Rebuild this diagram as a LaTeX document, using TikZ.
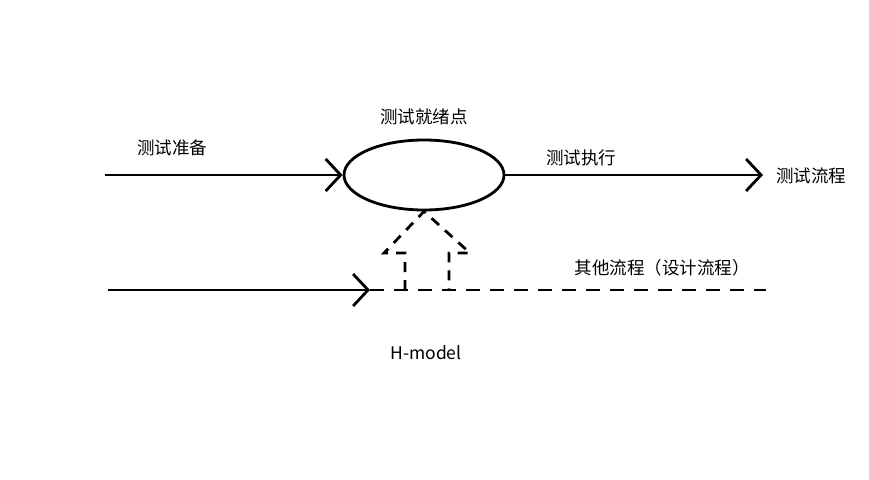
\documentclass[tikz,border=0pt]{standalone}
\usepackage{fontspec}
\setmainfont{Noto Sans CJK SC}
\usetikzlibrary{arrows.meta,shapes.geometric}
\tikzset{
  flow/.style={line width=2.8pt, -{Straight Barb[length=15pt,width=32pt,line width=2.8pt]}},
  guide/.style={line width=2.8pt, dash pattern=on 14pt off 10pt},
  lift/.style={line width=2.8pt, dash pattern=on 10pt off 8pt},
  lbl/.style={font=\fontsize{17.5}{20}\selectfont, inner sep=0pt},
}
\begin{document}
\begin{tikzpicture}[x=1pt,y=-1pt]
\useasboundingbox (0,0) rectangle (869,479);
% test flow
\node[draw, ellipse, line width=2.8pt, minimum width=160pt, minimum height=70pt, inner sep=0pt] (ready) at (424,175) {};
\node[lbl] (readylbl) at (424,117) {测试就绪点};
\node[lbl] (prep) at (172,148) {测试准备};
\node[lbl] (exec) at (581,158) {测试执行};
\node[lbl, anchor=west] (testflow) at (776,176) {测试流程};
\coordinate (start) at (105,175);
\coordinate (stop) at (763,175);
\draw[flow] (start) -- (ready.west);
\draw[flow] (ready.east) -- (stop);
% other flow
\node[lbl] (other) at (662,268) {其他流程（设计流程）};
\node[lbl] (hmodel) at (426,353) {H-model};
\coordinate (otherin) at (108,290);
\coordinate (merge) at (370,290);
\coordinate (otherend) at (766,290);
\draw[flow] (otherin) -- (merge);
\draw[guide] (merge) -- (otherend);
% hollow arrow up to the ready point
\coordinate (liftl) at (405,290);
\coordinate (liftr) at (449,290);
\draw[lift] (liftl) -- (405,253) -- (384,253) -- (ready.south) -- (470,253) -- (449,253) -- (liftr);
\end{tikzpicture}
\end{document}
